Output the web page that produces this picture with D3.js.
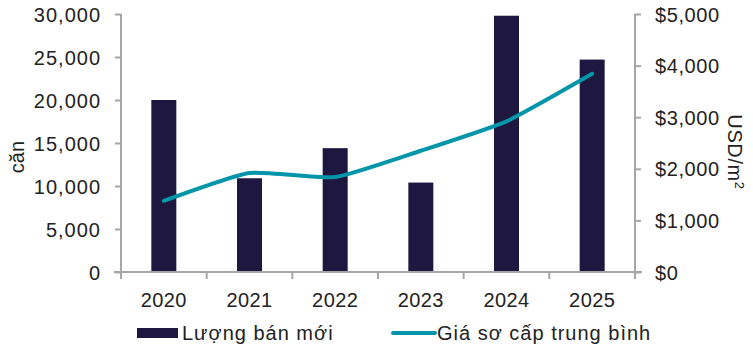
<!DOCTYPE html>
<html>
<head>
<meta charset="utf-8">
<script src="https://cdn.jsdelivr.net/npm/d3@7"></script>
<style>
  html, body { margin: 0; padding: 0; background: #fff; }
  svg { display: block; font-family: "Liberation Sans", Arial, sans-serif; }
</style>
</head>
<body>
<svg id="chart" width="753" height="361"></svg>
<script>
const years = ["2020", "2021", "2022", "2023", "2024", "2025"];
const sales = [20000, 10900, 14400, 10400, 29800, 24700];
const prices = [1380, 1920, 1840, 2350, 2920, 3840];
const leftTicks = [0, 5000, 10000, 15000, 20000, 25000, 30000];
const rightTicks = [0, 1000, 2000, 3000, 4000, 5000];
const salesName = "Lượng bán mới";
const priceName = "Giá sơ cấp trung bình";

const svg = d3.select("#chart");
const axisColor = "#a6a6a6";
const textColor = "#222222";
const barColor = "#1e1840";
const lineColor = "#0095a8";

const x0 = 121, x1 = 635, yTop = 14, yBot = 272;

const band = d3.scaleBand().domain(years).range([x0, x1]);
const yL = d3.scaleLinear().domain([0, 30000]).range([yBot, yTop]);
const yR = d3.scaleLinear().domain([0, 5000]).range([yBot, yTop]);

// bars
svg.append("g").selectAll("rect").data(years).join("rect")
  .attr("x", d => band(d) + band.bandwidth() / 2 - 12.5)
  .attr("width", 25)
  .attr("y", (d, i) => yL(sales[i]))
  .attr("height", (d, i) => yBot - yL(sales[i]))
  .attr("fill", barColor);

// axes
const fmt = d3.format(",");
const gL = svg.append("g").attr("transform", `translate(${x0},0)`)
  .call(d3.axisLeft(yL).tickValues(leftTicks).tickFormat(fmt).tickSize(6).tickPadding(14));
const gR = svg.append("g").attr("transform", `translate(${x1},0)`)
  .call(d3.axisRight(yR).tickValues(rightTicks).tickFormat(d => "$" + fmt(d)).tickSize(6).tickPadding(14));
const gX = svg.append("g").attr("transform", `translate(0,${yBot})`)
  .call(d3.axisBottom(band).tickSize(0).tickPadding(0).tickFormat(""));

[gL, gR].forEach(g => {
  g.select(".domain").attr("stroke", axisColor).attr("stroke-width", 2);
  g.selectAll(".tick line").attr("stroke", axisColor).attr("stroke-width", 2);
  g.selectAll(".tick text").attr("fill", textColor).style("font-size", "20px").attr("dy", "0.35em");
});
gL.select(".domain").attr("d", `M0,${yTop}V${yBot}`);
gR.select(".domain").attr("d", `M0,${yTop}V${yBot}`);
gL.selectAll(".tick text").style("letter-spacing", "1px");
gR.selectAll(".tick text").style("letter-spacing", "0.6px");

gX.select(".domain").attr("stroke", axisColor).attr("stroke-width", 2).attr("d", `M${x0 - 7},0H${x1 + 7}`);
gX.selectAll(".tick").remove();
// x tick marks at band boundaries
const bounds = years.map(d => band(d)).concat([x1]);
gX.selectAll("line.xt").data(bounds).join("line")
  .attr("class", "xt")
  .attr("x1", d => d).attr("x2", d => d)
  .attr("y1", 0).attr("y2", 7)
  .attr("stroke", axisColor).attr("stroke-width", 2);
gX.selectAll("text.xl").data(years).join("text")
  .attr("class", "xl")
  .attr("x", d => band(d) + band.bandwidth() / 2)
  .attr("y", 35)
  .attr("text-anchor", "middle")
  .attr("fill", textColor)
  .style("font-size", "20px")
  .style("letter-spacing", "0.4px")
  .text(d => d);

// line
const line = d3.line()
  .x((d, i) => band(years[i]) + band.bandwidth() / 2)
  .y(d => yR(d))
  .curve(d3.curveCardinal.tension(0.5));
svg.append("path").datum(prices)
  .attr("d", line)
  .attr("fill", "none")
  .attr("stroke", lineColor)
  .attr("stroke-width", 4)
  .attr("stroke-linecap", "round");

// axis titles
svg.append("text")
  .attr("transform", "translate(24,157) rotate(-90)")
  .attr("text-anchor", "middle")
  .attr("fill", textColor)
  .style("font-size", "20px")
  .text("căn");
const rt = svg.append("text")
  .attr("transform", "translate(728,152) rotate(90)")
  .attr("text-anchor", "middle")
  .attr("fill", textColor)
  .style("font-size", "20px")
  .style("letter-spacing", "0.6px");
rt.append("tspan").text("USD/m");
rt.append("tspan").attr("baseline-shift", "super").style("font-size", "13px").text("2");

// legend
const lg = svg.append("g");
lg.append("rect").attr("x", 137).attr("y", 328).attr("width", 41).attr("height", 10).attr("fill", barColor);
lg.append("text").attr("x", 182).attr("y", 340).attr("fill", textColor).style("font-size", "20px")
  .style("letter-spacing", "1px").text(salesName);
lg.append("line").attr("x1", 393).attr("x2", 435).attr("y1", 333).attr("y2", 333)
  .attr("stroke", lineColor).attr("stroke-width", 4).attr("stroke-linecap", "round");
lg.append("text").attr("x", 437).attr("y", 340).attr("fill", textColor).style("font-size", "20px")
  .style("letter-spacing", "1px").text(priceName);
</script>
</body>
</html>
